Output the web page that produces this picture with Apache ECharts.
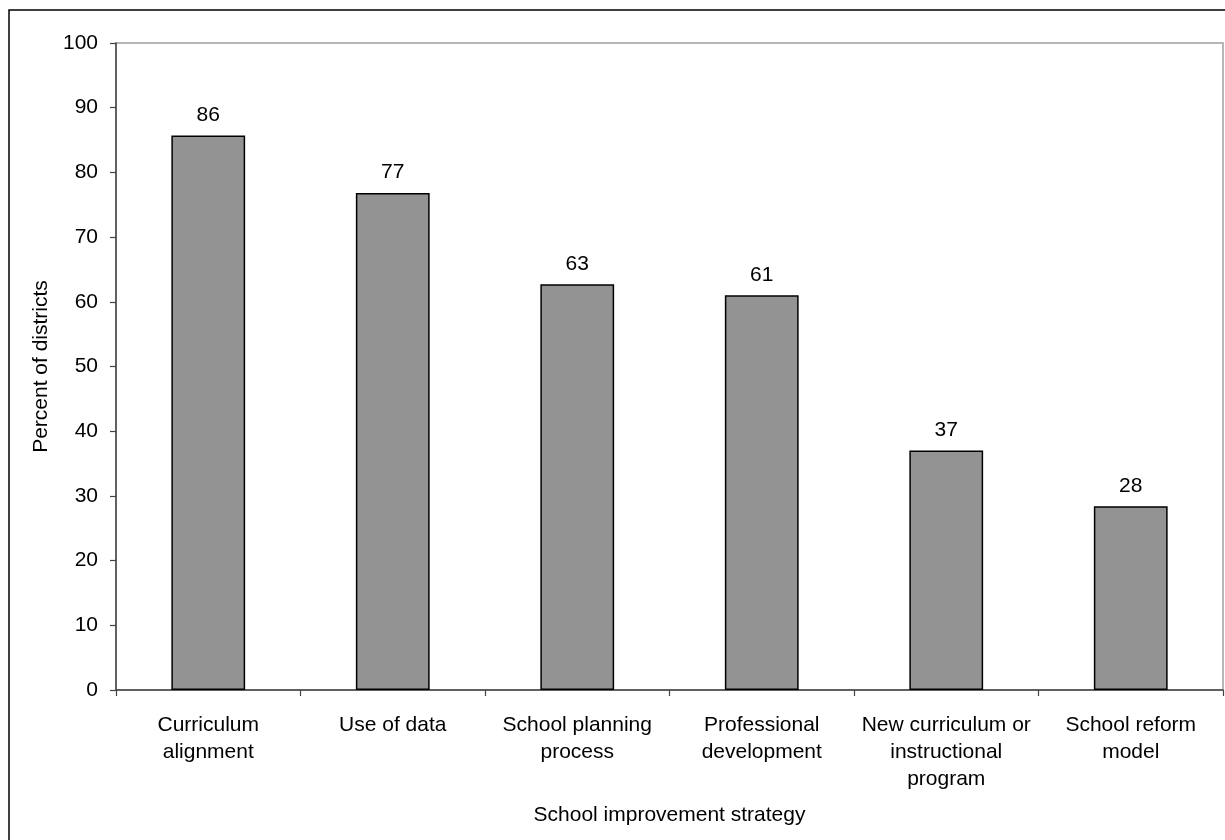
<!DOCTYPE html>
<html>
<head>
<meta charset="utf-8">
<script src="https://cdn.jsdelivr.net/npm/echarts@6/dist/echarts.min.js"></script>
<style>html,body{margin:0;padding:0;background:#fff;}#c{width:1225px;height:840px;}</style>
</head>
<body>
<div id="c"></div>
<script>
var categories = ['Curriculum\nalignment', 'Use of data', 'School planning\nprocess', 'Professional\ndevelopment', 'New curriculum or\ninstructional\nprogram', 'School reform\nmodel'];
var values = [85.7, 76.8, 62.7, 61.0, 37.0, 28.4];
var yTicks = {min: 0, max: 100, interval: 10};

var chart = echarts.init(document.getElementById('c'), null, {renderer: 'canvas'});
var font = '"Liberation Sans", Arial, sans-serif';
chart.setOption({
  animation: false,
  backgroundColor: '#fff',
  graphic: [{
    type: 'rect', z: 100, silent: true,
    shape: {x: 9, y: 10, width: 1400, height: 1000},
    style: {fill: 'none', stroke: '#000', lineWidth: 1.5}
  }],
  grid: {left: 116, top: 43, right: 2, bottom: 150, show: true, borderColor: '#a0a0a0', borderWidth: 1.5, backgroundColor: 'transparent'},
  xAxis: {
    type: 'category',
    data: categories,
    name: 'School improvement strategy',
    nameLocation: 'middle',
    nameGap: 115,
    nameTextStyle: {fontFamily: font, fontSize: 21, color: '#000'},
    axisLine: {lineStyle: {color: '#444', width: 1.5}},
    axisTick: {show: true, length: 6, lineStyle: {color: '#444', width: 1.2}},
    axisLabel: {fontFamily: font, fontSize: 21, color: '#000', lineHeight: 27, margin: 22, interval: 0}
  },
  yAxis: {
    type: 'value',
    min: yTicks.min, max: yTicks.max, interval: yTicks.interval,
    name: 'Percent of districts',
    nameLocation: 'middle',
    nameRotate: 90,
    nameGap: 64,
    nameTextStyle: {fontFamily: font, fontSize: 21, color: '#000'},
    splitLine: {show: false},
    axisLine: {show: true, lineStyle: {color: '#444', width: 1.5}},
    axisTick: {show: true, length: 6, lineStyle: {color: '#444', width: 1.2}},
    axisLabel: {fontFamily: font, fontSize: 21, color: '#000', margin: 18}
  },
  series: [{
    type: 'bar',
    data: values,
    barWidth: '40%',
    itemStyle: {color: '#939393', borderColor: '#000', borderWidth: 1.5},
    label: {
      show: true, position: 'top', distance: 10,
      fontFamily: font, fontSize: 21, color: '#000',
      formatter: function (p) { return Math.round(p.value); }
    }
  }]
});
</script>
</body>
</html>
